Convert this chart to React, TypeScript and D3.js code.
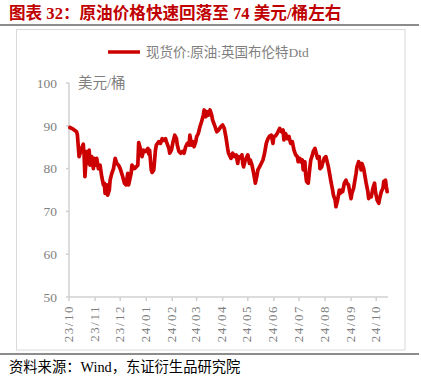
import React from "react";
import * as d3 from "d3";

const titleText = "图表 32：原油价格快速回落至 74 美元/桶左右";
const legendLabel = "现货价:原油:英国布伦特Dtd";
const unitLabel = "美元/桶";
const sourceText = "资料来源：Wind，东证衍生品研究院";
const yTicks = [50, 60, 70, 80, 90, 100];

const dates = [
  "2023-10-02","2023-10-06","2023-10-10","2023-10-11","2023-10-13","2023-10-16","2023-10-18","2023-10-19","2023-10-20","2023-10-22",
  "2023-10-23","2023-10-25","2023-10-26","2023-10-28","2023-10-30","2023-10-31","2023-11-02","2023-11-03","2023-11-05","2023-11-07",
  "2023-11-09","2023-11-11","2023-11-12","2023-11-13","2023-11-15","2023-11-16","2023-11-18","2023-11-19","2023-11-21","2023-11-23",
  "2023-11-25","2023-11-27","2023-11-29","2023-12-01","2023-12-04","2023-12-06","2023-12-08","2023-12-10","2023-12-11","2023-12-14",
  "2023-12-15","2023-12-18","2023-12-20","2023-12-22","2023-12-23","2023-12-26","2023-12-27","2023-12-29","2023-12-31","2024-01-03",
  "2024-01-04","2024-01-05","2024-01-07","2024-01-08","2024-01-10","2024-01-12","2024-01-13","2024-01-16","2024-01-18","2024-01-20",
  "2024-01-22","2024-01-24","2024-01-25","2024-01-28","2024-01-29","2024-01-31","2024-02-02","2024-02-04","2024-02-06","2024-02-07",
  "2024-02-09","2024-02-11","2024-02-13","2024-02-15","2024-02-17","2024-02-19","2024-02-21","2024-02-22","2024-02-24","2024-02-26",
  "2024-02-27","2024-02-29","2024-03-01","2024-03-03","2024-03-05","2024-03-07","2024-03-09","2024-03-10","2024-03-12","2024-03-13",
  "2024-03-15","2024-03-17","2024-03-19","2024-03-20","2024-03-23","2024-03-25","2024-03-27","2024-03-30","2024-04-01","2024-04-03",
  "2024-04-05","2024-04-07","2024-04-08","2024-04-09","2024-04-11","2024-04-13","2024-04-15","2024-04-17","2024-04-19","2024-04-20",
  "2024-04-23","2024-04-24","2024-04-25","2024-04-26","2024-04-28","2024-04-30","2024-05-01","2024-05-03","2024-05-04","2024-05-06",
  "2024-05-08","2024-05-09","2024-05-10","2024-05-12","2024-05-13","2024-05-15","2024-05-17","2024-05-19","2024-05-21","2024-05-23",
  "2024-05-25","2024-05-27","2024-05-29","2024-05-31","2024-06-01","2024-06-03","2024-06-05","2024-06-08","2024-06-10","2024-06-12",
  "2024-06-13","2024-06-15","2024-06-17","2024-06-19","2024-06-21","2024-06-23","2024-06-25","2024-06-27","2024-06-29","2024-06-30",
  "2024-07-02","2024-07-03","2024-07-05","2024-07-06","2024-07-08","2024-07-09","2024-07-10","2024-07-12","2024-07-14","2024-07-15",
  "2024-07-17","2024-07-18","2024-07-20","2024-07-22","2024-07-23","2024-07-25","2024-07-26","2024-07-28","2024-07-29","2024-07-31",
  "2024-08-02","2024-08-03","2024-08-05","2024-08-06","2024-08-08","2024-08-10","2024-08-11","2024-08-13","2024-08-14","2024-08-16",
  "2024-08-18","2024-08-19","2024-08-21","2024-08-22","2024-08-24","2024-08-26","2024-08-27","2024-08-29","2024-08-30","2024-09-01",
  "2024-09-02","2024-09-04","2024-09-05","2024-09-07","2024-09-08","2024-09-10","2024-09-12","2024-09-13","2024-09-14","2024-09-16",
  "2024-09-17","2024-09-19","2024-09-21","2024-09-22","2024-09-24","2024-09-25","2024-09-27","2024-09-29","2024-09-30","2024-10-02",
  "2024-10-04","2024-10-05","2024-10-07","2024-10-09","2024-10-10","2024-10-12","2024-10-13","2024-10-14"
];

const prices = [
  89.6,89.2,88.6,87.9,82.8,84.7,85.7,83.2,78.1,84.0,
  81.2,84.3,80.8,82.8,80.0,82.4,80.8,82.4,80.0,80.8,
  78.1,76.2,76.6,74.2,76.2,73.8,75.0,77.3,78.9,80.0,
  82.4,81.2,80.8,80.0,78.1,76.6,76.2,78.9,76.2,78.9,
  80.8,80.0,80.4,80.8,86.1,84.0,82.8,84.3,84.0,84.7,
  83.4,84.3,79.7,79.1,79.7,84.3,85.5,86.3,85.9,87.0,
  86.6,87.0,86.3,84.7,83.6,84.3,86.3,87.8,87.0,85.5,
  84.0,83.6,84.0,83.6,85.1,85.9,85.5,87.8,85.5,86.3,
  85.1,86.3,87.4,88.2,89.8,91.0,92.5,93.7,92.1,93.3,
  92.5,93.7,92.5,91.4,89.8,88.6,89.0,89.8,90.2,89.4,
  87.3,84.7,83.6,83.2,82.4,83.6,82.8,83.2,81.2,82.8,
  82.4,83.2,81.2,80.4,82.0,82.8,83.2,81.2,82.0,80.8,
  78.9,77.7,76.6,78.5,79.7,80.4,81.2,82.0,83.6,85.9,
  87.0,87.6,87.8,85.9,87.5,87.6,88.2,89.4,88.6,89.0,
  86.7,88.2,87.0,87.5,85.9,86.3,84.3,83.2,82.8,81.6,
  82.4,81.6,82.0,79.7,81.6,78.5,77.0,76.6,80.4,82.0,
  83.2,84.0,84.7,83.2,82.4,82.8,80.0,80.4,81.2,82.4,
  82.8,82.0,80.4,79.3,77.0,75.0,73.8,72.7,71.1,72.7,
  75.0,74.2,75.0,74.6,76.6,77.3,76.6,76.2,75.0,73.0,
  74.2,75.4,76.6,78.9,80.4,81.6,80.8,79.7,81.2,80.0,
  78.9,76.6,74.6,73.0,73.8,73.4,75.4,76.6,74.6,72.7,
  71.9,73.0,74.6,75.4,77.0,77.3,75.8,74.6
];

const parse = d3.timeParse("%Y-%m-%d");
const fmt = d3.timeFormat("%y/%m");

const W = 421;
const H = 389;
const left = 69;
const right = 388;
const top = 83;
const bottom = 297;

const serif = "'Liberation Serif', 'Noto Sans CJK SC', serif";
const red = "#CC0000";
const gray = "#7f7f7f";
const axisColor = "#d0d0d0";

export default function App() {
  const data = dates.map((d, i) => ({ date: parse(d) as Date, value: prices[i] }));
  const x = d3.scaleTime().domain([new Date(2023, 9, 1), new Date(2024, 9, 15)]).range([left, right]);
  const y = d3.scaleLinear().domain([50, 100]).range([bottom, top]);
  const monthTicks = d3.timeMonth.range(new Date(2023, 9, 1), new Date(2024, 9, 2));
  const line = d3
    .line<{ date: Date; value: number }>()
    .x((d) => x(d.date))
    .y((d) => y(d.value));

  return (
    <svg width={W} height={H} style={{ position: "absolute", left: 0, top: 0, background: "#fff" }}>
      <text x={9} y={19} fill="#C00000" fontFamily={serif} fontSize={16.6} fontWeight="bold">
        {titleText}
      </text>
      <line x1={0} x2={419} y1={25} y2={25} stroke="#8c8c8c" strokeWidth={2} />
      <rect x={16.5} y={29.5} width={388.5} height={320.5} fill="none" stroke="#d9d9d9" strokeWidth={1} />

      {/* legend */}
      <line x1={108} x2={140} y1={52} y2={52} stroke={red} strokeWidth={3.5} />
      <text x={146} y={52} dy="0.35em" fill={gray} fontFamily={serif} fontSize={13.5}>
        {legendLabel}
      </text>

      {/* y axis */}
      <line x1={left} x2={left} y1={top} y2={bottom} stroke={axisColor} strokeWidth={1.5} />
      {yTicks.map((t) => (
        <g key={t}>
          <line x1={left - 3} x2={left} y1={y(t)} y2={y(t)} stroke={axisColor} strokeWidth={1.5} />
          <text x={57} y={y(t)} dy="0.35em" textAnchor="end" fill={gray} fontFamily={serif} fontSize={13.5}>
            {t}
          </text>
        </g>
      ))}
      <text x={78} y={top} dy="0.35em" fill={gray} fontFamily={serif} fontSize={14.5}>
        {unitLabel}
      </text>

      {/* x axis */}
      <line x1={left} x2={right} y1={bottom} y2={bottom} stroke={axisColor} strokeWidth={1.5} />
      {monthTicks.map((t) => (
        <g key={t.toISOString()}>
          <line x1={x(t)} x2={x(t)} y1={bottom} y2={bottom + 4} stroke={axisColor} strokeWidth={1.5} />
          <text
            transform={`translate(${x(t) - 1},${bottom + 8}) rotate(-90)`}
            textAnchor="end"
            dy="0.35em"
            fill={gray}
            fontFamily={serif}
            fontSize={13}
            letterSpacing={1.5}
          >
            {fmt(t)}
          </text>
        </g>
      ))}

      <path d={line(data) || ""} fill="none" stroke={red} strokeWidth={3.7} strokeLinejoin="round" strokeLinecap="round" />

      <line x1={0} x2={419} y1={354} y2={354} stroke="#8c8c8c" strokeWidth={2} />
      <text x={9} y={367} dy="0.35em" fill="#000" fontFamily={serif} fontSize={14.3}>
        {sourceText}
      </text>
    </svg>
  );
}
